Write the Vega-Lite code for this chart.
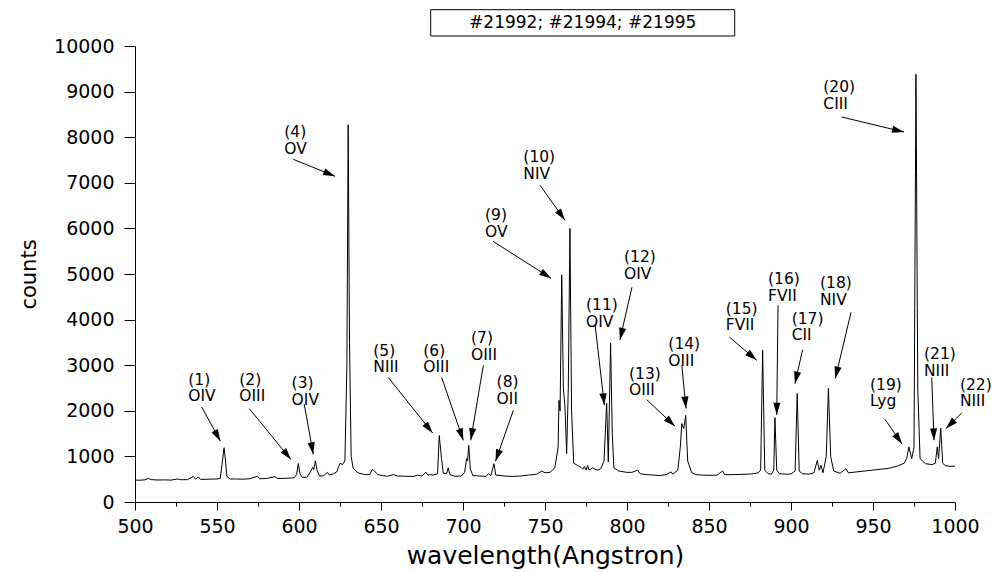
{
  "$schema": "https://vega.github.io/schema/vega-lite/v6.json",
  "width": 820,
  "height": 456,
  "autosize": {"type": "none"},
  "padding": {"left": 135, "top": 46, "right": 38, "bottom": 70},
  "background": "white",
  "config": {
    "view": {"stroke": null},
    "font": "DejaVu Sans",
    "axis": {
      "domainColor": "black", "domainWidth": 1, "tickColor": "black", "tickWidth": 1,
      "labelColor": "black", "titleColor": "black", "labelFont": "DejaVu Sans", "titleFont": "DejaVu Sans",
      "titleFontWeight": "normal", "grid": false, "labelOverlap": false, "labelFlush": false
    }
  },
  "datasets": {
    "spectrum": [
      {"wavelength": 500, "counts": 480}, {"wavelength": 503, "counts": 478}, {"wavelength": 506, "counts": 485},
      {"wavelength": 508, "counts": 515}, {"wavelength": 510, "counts": 490}, {"wavelength": 514, "counts": 482},
      {"wavelength": 518, "counts": 485}, {"wavelength": 522, "counts": 480}, {"wavelength": 526, "counts": 505},
      {"wavelength": 528, "counts": 488}, {"wavelength": 532, "counts": 490}, {"wavelength": 535.5, "counts": 560},
      {"wavelength": 537, "counts": 500}, {"wavelength": 538.6, "counts": 550}, {"wavelength": 540, "counts": 495},
      {"wavelength": 545, "counts": 500}, {"wavelength": 550, "counts": 505}, {"wavelength": 552, "counts": 520},
      {"wavelength": 553, "counts": 800}, {"wavelength": 554.3, "counts": 1190}, {"wavelength": 555.2, "counts": 900},
      {"wavelength": 556, "counts": 560}, {"wavelength": 558, "counts": 505}, {"wavelength": 562, "counts": 505},
      {"wavelength": 566, "counts": 500}, {"wavelength": 570, "counts": 510}, {"wavelength": 574.8, "counts": 565},
      {"wavelength": 576, "counts": 510}, {"wavelength": 580, "counts": 515}, {"wavelength": 585.4, "counts": 555},
      {"wavelength": 587, "counts": 515}, {"wavelength": 592, "counts": 520}, {"wavelength": 597, "counts": 530},
      {"wavelength": 598.5, "counts": 600}, {"wavelength": 599.6, "counts": 845}, {"wavelength": 600.6, "counts": 620},
      {"wavelength": 602, "counts": 540}, {"wavelength": 605, "counts": 545}, {"wavelength": 607.5, "counts": 700},
      {"wavelength": 608.3, "counts": 760}, {"wavelength": 609, "counts": 710}, {"wavelength": 610, "counts": 900},
      {"wavelength": 611, "counts": 700}, {"wavelength": 612.5, "counts": 570}, {"wavelength": 615, "counts": 575},
      {"wavelength": 617.3, "counts": 650}, {"wavelength": 618.5, "counts": 590}, {"wavelength": 621, "counts": 620},
      {"wavelength": 623, "counts": 660}, {"wavelength": 625, "counts": 850}, {"wavelength": 626.5, "counts": 820},
      {"wavelength": 628, "counts": 900}, {"wavelength": 629.2, "counts": 3000}, {"wavelength": 630, "counts": 8270},
      {"wavelength": 630.8, "counts": 3500}, {"wavelength": 631.8, "counts": 1000}, {"wavelength": 633, "counts": 740},
      {"wavelength": 636, "counts": 640}, {"wavelength": 640, "counts": 600}, {"wavelength": 643, "counts": 600},
      {"wavelength": 644.7, "counts": 710}, {"wavelength": 646, "counts": 680}, {"wavelength": 648, "counts": 600},
      {"wavelength": 651, "counts": 580}, {"wavelength": 654, "counts": 565}, {"wavelength": 657.5, "counts": 600},
      {"wavelength": 660, "counts": 570}, {"wavelength": 665, "counts": 565}, {"wavelength": 670, "counts": 560},
      {"wavelength": 672, "counts": 590}, {"wavelength": 675, "counts": 570}, {"wavelength": 677.4, "counts": 655},
      {"wavelength": 678.5, "counts": 590}, {"wavelength": 680, "counts": 600}, {"wavelength": 682, "counts": 590},
      {"wavelength": 684.5, "counts": 620}, {"wavelength": 685.5, "counts": 1460}, {"wavelength": 686.9, "counts": 950},
      {"wavelength": 688, "counts": 630}, {"wavelength": 690, "counts": 620}, {"wavelength": 691, "counts": 750},
      {"wavelength": 692, "counts": 600}, {"wavelength": 695, "counts": 565}, {"wavelength": 699, "counts": 570},
      {"wavelength": 701, "counts": 650}, {"wavelength": 702.2, "counts": 950}, {"wavelength": 702.8, "counts": 900},
      {"wavelength": 703.5, "counts": 1240}, {"wavelength": 704.5, "counts": 720}, {"wavelength": 706, "counts": 580},
      {"wavelength": 710, "counts": 570}, {"wavelength": 714, "counts": 560}, {"wavelength": 715.5, "counts": 620},
      {"wavelength": 717, "counts": 580}, {"wavelength": 718.9, "counts": 840}, {"wavelength": 720, "counts": 590},
      {"wavelength": 725, "counts": 570}, {"wavelength": 730, "counts": 560}, {"wavelength": 735, "counts": 570},
      {"wavelength": 740, "counts": 590}, {"wavelength": 745, "counts": 610}, {"wavelength": 748, "counts": 680},
      {"wavelength": 750, "counts": 640}, {"wavelength": 753, "counts": 650}, {"wavelength": 756, "counts": 750},
      {"wavelength": 758, "counts": 1200}, {"wavelength": 758.5, "counts": 2230}, {"wavelength": 759.2, "counts": 2000},
      {"wavelength": 760.2, "counts": 4980}, {"wavelength": 761.2, "counts": 2500}, {"wavelength": 762.2, "counts": 2080},
      {"wavelength": 763.2, "counts": 1060}, {"wavelength": 764.2, "counts": 2500}, {"wavelength": 765.2, "counts": 6000},
      {"wavelength": 766.2, "counts": 2000}, {"wavelength": 767.5, "counts": 850}, {"wavelength": 770, "counts": 800},
      {"wavelength": 772, "counts": 760}, {"wavelength": 773, "counts": 720}, {"wavelength": 774, "counts": 780},
      {"wavelength": 775, "counts": 700}, {"wavelength": 776, "counts": 800}, {"wavelength": 777, "counts": 700},
      {"wavelength": 779, "counts": 750}, {"wavelength": 780, "counts": 730}, {"wavelength": 782, "counts": 700},
      {"wavelength": 784, "counts": 730}, {"wavelength": 786, "counts": 900}, {"wavelength": 787.6, "counts": 2170},
      {"wavelength": 788.6, "counts": 880}, {"wavelength": 790, "counts": 3490}, {"wavelength": 791, "counts": 1500},
      {"wavelength": 792, "counts": 750}, {"wavelength": 795, "counts": 680}, {"wavelength": 800, "counts": 650},
      {"wavelength": 803, "counts": 650}, {"wavelength": 806.5, "counts": 700}, {"wavelength": 808, "counts": 620},
      {"wavelength": 812, "counts": 600}, {"wavelength": 816, "counts": 590}, {"wavelength": 820, "counts": 580},
      {"wavelength": 824, "counts": 600}, {"wavelength": 826.8, "counts": 660}, {"wavelength": 828, "counts": 610},
      {"wavelength": 831, "counts": 700}, {"wavelength": 832.5, "counts": 1200}, {"wavelength": 833.4, "counts": 1720},
      {"wavelength": 834.6, "counts": 1610}, {"wavelength": 835.8, "counts": 1900}, {"wavelength": 837, "counts": 900},
      {"wavelength": 839.5, "counts": 640}, {"wavelength": 842, "counts": 600}, {"wavelength": 846, "counts": 590},
      {"wavelength": 850, "counts": 585}, {"wavelength": 855, "counts": 590}, {"wavelength": 858.3, "counts": 680},
      {"wavelength": 859.5, "counts": 600}, {"wavelength": 864, "counts": 600}, {"wavelength": 870, "counts": 605},
      {"wavelength": 876, "counts": 615}, {"wavelength": 880, "counts": 640}, {"wavelength": 881.5, "counts": 700},
      {"wavelength": 882.7, "counts": 3330}, {"wavelength": 884, "counts": 700}, {"wavelength": 886, "counts": 620},
      {"wavelength": 888, "counts": 610}, {"wavelength": 889.5, "counts": 700}, {"wavelength": 890.2, "counts": 1850},
      {"wavelength": 891.3, "counts": 700}, {"wavelength": 893, "counts": 620}, {"wavelength": 897, "counts": 610},
      {"wavelength": 900, "counts": 615}, {"wavelength": 902.5, "counts": 680}, {"wavelength": 903.8, "counts": 2380},
      {"wavelength": 905, "counts": 680}, {"wavelength": 907, "counts": 620}, {"wavelength": 911, "counts": 610},
      {"wavelength": 914, "counts": 640}, {"wavelength": 916, "counts": 910}, {"wavelength": 917.2, "counts": 700},
      {"wavelength": 918.3, "counts": 805}, {"wavelength": 919.5, "counts": 640}, {"wavelength": 921.5, "counts": 1000},
      {"wavelength": 922.8, "counts": 2490}, {"wavelength": 924.2, "counts": 1000}, {"wavelength": 926, "counts": 680},
      {"wavelength": 930, "counts": 630}, {"wavelength": 933.5, "counts": 730}, {"wavelength": 935, "counts": 640},
      {"wavelength": 940, "counts": 660}, {"wavelength": 945, "counts": 680}, {"wavelength": 950, "counts": 700},
      {"wavelength": 955, "counts": 720}, {"wavelength": 960, "counts": 740}, {"wavelength": 965, "counts": 790},
      {"wavelength": 969, "counts": 850}, {"wavelength": 970.5, "counts": 950}, {"wavelength": 971.9, "counts": 1210},
      {"wavelength": 973.6, "counts": 950}, {"wavelength": 975, "counts": 1200}, {"wavelength": 976.2, "counts": 9380},
      {"wavelength": 977.3, "counts": 2500}, {"wavelength": 978.7, "counts": 950}, {"wavelength": 982, "counts": 840},
      {"wavelength": 986, "counts": 820}, {"wavelength": 988, "counts": 850}, {"wavelength": 989.2, "counts": 1210},
      {"wavelength": 990, "counts": 950}, {"wavelength": 991.3, "counts": 1620}, {"wavelength": 992.5, "counts": 850},
      {"wavelength": 994, "counts": 800}, {"wavelength": 997, "counts": 780}, {"wavelength": 1000, "counts": 790}
    ],
    "notes": [
      {"label": "(1)\nOIV", "labelX": 532.5, "labelY": 2829, "fromX": 540.7, "fromY": 2083, "toX": 552.1, "toY": 1331},
      {"label": "(2)\nOIII", "labelX": 563.6, "labelY": 2829, "fromX": 569.7, "fromY": 2048, "toX": 595.1, "toY": 930},
      {"label": "(3)\nOIV", "labelX": 595.5, "labelY": 2757, "fromX": 603.2, "fromY": 2143, "toX": 608.7, "toY": 1046},
      {"label": "(4)\nOV", "labelX": 591.0, "labelY": 8261, "fromX": 596.5, "fromY": 7515, "toX": 622.0, "toY": 7143},
      {"label": "(5)\nNIII", "labelX": 645.3, "labelY": 3474, "fromX": 654.5, "fromY": 2728, "toX": 681.5, "toY": 1513},
      {"label": "(6)\nOIII", "labelX": 675.8, "labelY": 3474, "fromX": 687.0, "fromY": 2728, "toX": 700.2, "toY": 1353},
      {"label": "(7)\nOIII", "labelX": 704.9, "labelY": 3750, "fromX": 712.4, "fromY": 2998, "toX": 704.7, "toY": 1353},
      {"label": "(8)\nOII", "labelX": 720.5, "labelY": 2779, "fromX": 730.7, "fromY": 2011, "toX": 719.8, "toY": 893},
      {"label": "(9)\nOV", "labelX": 713.4, "labelY": 6441, "fromX": 718.3, "fromY": 5717, "toX": 753.7, "toY": 4906},
      {"label": "(10)\nNIV", "labelX": 736.8, "labelY": 7713, "fromX": 747.0, "fromY": 6945, "toX": 762.2, "toY": 6178},
      {"label": "(11)\nOIV", "labelX": 775.0, "labelY": 4467, "fromX": 780.5, "fromY": 3897, "toX": 786.2, "toY": 2121},
      {"label": "(12)\nOIV", "labelX": 798.2, "labelY": 5520, "fromX": 803.0, "fromY": 4708, "toX": 795.7, "toY": 3557},
      {"label": "(13)\nOIII", "labelX": 801.2, "labelY": 2961, "fromX": 812.0, "fromY": 2246, "toX": 829.3, "toY": 1660},
      {"label": "(14)\nOIII", "labelX": 825.2, "labelY": 3618, "fromX": 833.4, "fromY": 2998, "toX": 836.0, "toY": 2048},
      {"label": "(15)\nFVII", "labelX": 860.2, "labelY": 4386, "fromX": 862.4, "fromY": 3618, "toX": 879.1, "toY": 3107},
      {"label": "(16)\nFVII", "labelX": 886.0, "labelY": 5037, "fromX": 892.1, "fromY": 4314, "toX": 891.3, "toY": 1912},
      {"label": "(17)\nCII", "labelX": 900.4, "labelY": 4167, "fromX": 907.1, "fromY": 3342, "toX": 902.4, "toY": 2596},
      {"label": "(18)\nNIV", "labelX": 917.7, "labelY": 4950, "fromX": 936.6, "fromY": 4160, "toX": 927.0, "toY": 2706},
      {"label": "(19)\nLyg", "labelX": 948.2, "labelY": 2728, "fromX": 957.3, "fromY": 1814, "toX": 967.7, "toY": 1272},
      {"label": "(20)\nCIII", "labelX": 919.7, "labelY": 9248, "fromX": 930.9, "fromY": 8443, "toX": 968.9, "toY": 8114},
      {"label": "(21)\nNIII", "labelX": 981.1, "labelY": 3399, "fromX": 985.8, "fromY": 2728, "toX": 987.2, "toY": 1353},
      {"label": "(22)\nNIII", "labelX": 1003.0, "labelY": 2728, "fromX": 1004.1, "fromY": 1952, "toX": 994.5, "toY": 1610}
    ]
  },
  "layer": [
    {
      "data": {"name": "spectrum"},
      "mark": {"type": "line", "strokeWidth": 1, "interpolate": "linear"},
      "encoding": {
        "x": {
          "field": "wavelength", "type": "quantitative",
          "scale": {"domain": [500, 1000], "nice": false, "zero": false},
          "axis": {
            "title": "wavelength(Angstron)",
            "values": [500, 525, 550, 575, 600, 625, 650, 675, 700, 725, 750, 775, 800, 825, 850, 875, 900, 925, 950, 975, 1000],
            "format": "d",
            "labelExpr": "datum.value % 50 === 0 ? datum.label : ''",
            "tickSize": {"condition": {"test": "datum.value % 50 === 0", "value": 8}, "value": 4},
            "labelFontSize": 19, "labelPadding": 7,
            "titleFontSize": 25, "titlePadding": 7
          }
        },
        "y": {
          "field": "counts", "type": "quantitative",
          "scale": {"domain": [0, 10000], "nice": false},
          "axis": {
            "title": "counts",
            "values": [0, 500, 1000, 1500, 2000, 2500, 3000, 3500, 4000, 4500, 5000, 5500, 6000, 6500, 7000, 7500, 8000, 8500, 9000, 9500, 10000],
            "format": "d",
            "labelExpr": "datum.value % 1000 === 0 ? datum.label : ''",
            "tickSize": {"condition": {"test": "datum.value % 1000 === 0", "value": 11}, "value": 5},
            "labelFontSize": 19, "labelPadding": 10,
            "titleFontSize": 21, "titlePadding": 14
          }
        },
        "stroke": {
          "datum": "#21992; #21994; #21995",
          "scale": {"range": ["black"]},
          "legend": {
            "orient": "none", "legendX": 295.2, "legendY": -175.65, "title": null, "padding": 0,
            "symbolType": "M-1,-0.0865H1V0.0865H-1Z", "symbolSize": 92416, "symbolStrokeWidth": 1,
            "symbolFillColor": "white", "symbolStrokeColor": "black", "symbolOpacity": 1, "symbolOffset": 0,
            "labelAlign": "center", "labelBaseline": "middle", "labelOffset": -152.5,
            "labelFontSize": 17, "labelFont": "DejaVu Sans", "labelColor": "black", "labelLimit": 500
          }
        }
      }
    },
    {
      "data": {"name": "notes"},
      "mark": {"type": "rule", "color": "black", "strokeWidth": 1},
      "encoding": {
        "x": {"field": "fromX", "type": "quantitative"},
        "y": {"field": "fromY", "type": "quantitative"},
        "x2": {"field": "toX"},
        "y2": {"field": "toY"}
      }
    },
    {
      "data": {"name": "notes"},
      "transform": [
        {"calculate": "atan2((datum.toX - datum.fromX) * 1.64, (datum.toY - datum.fromY) * 0.0456) * 180 / PI", "as": "heading"}
      ],
      "mark": {"type": "point", "shape": "M0,0L-0.6,2L0.6,2Z", "size": 144, "filled": true, "color": "black", "opacity": 1, "strokeWidth": 0},
      "encoding": {
        "x": {"field": "toX", "type": "quantitative"},
        "y": {"field": "toY", "type": "quantitative"},
        "angle": {"field": "heading", "type": "quantitative", "scale": null}
      }
    },
    {
      "data": {"name": "notes"},
      "mark": {"type": "text", "align": "left", "baseline": "top", "fontSize": 15.5, "font": "DejaVu Sans", "color": "black", "lineBreak": "\n", "lineHeight": 16.5},
      "encoding": {
        "x": {"field": "labelX", "type": "quantitative"},
        "y": {"field": "labelY", "type": "quantitative"},
        "text": {"field": "label"}
      }
    }
  ]
}
